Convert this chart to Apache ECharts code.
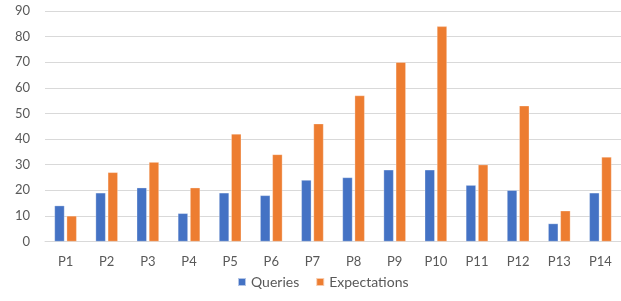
<!DOCTYPE html>
<html>
<head>
<meta charset="utf-8">
<script src="https://cdn.jsdelivr.net/npm/echarts@6/dist/echarts.min.js"></script>
<style>
  html, body { margin: 0; padding: 0; background: #fff; }
  #chart { width: 621px; height: 301px; }
</style>
</head>
<body>
<div id="chart"></div>
<script>
// data
const categories = ['P1', 'P2', 'P3', 'P4', 'P5', 'P6', 'P7', 'P8', 'P9', 'P10', 'P11', 'P12', 'P13', 'P14'];
const queries = [14, 19, 21, 11, 19, 18, 24, 25, 28, 28, 22, 20, 7, 19];
const expectations = [10, 27, 31, 21, 42, 34, 46, 57, 70, 84, 30, 53, 12, 33];
const yTicks = { min: 0, max: 90, interval: 10 };

const font = 'Lato, "Open Sans", sans-serif';
const textColor = '#595959';

const chart = echarts.init(document.getElementById('chart'));

chart.setOption({
  backgroundColor: '#fff',
  animation: false,
  textStyle: { fontFamily: font },
  grid: { left: 45, right: 0, top: 11, bottom: 59.5 },
  legend: {
    data: ['Queries', 'Expectations'],
    bottom: 7,
    left: 232,
    icon: 'rect',
    itemWidth: 8,
    itemHeight: 8,
    itemGap: 16,
    itemTextGap: 4,
    textStyle: { color: textColor, fontSize: 14, fontFamily: font }
  },
  xAxis: {
    type: 'category',
    data: categories,
    axisLine: { lineStyle: { color: '#d9d9d9' } },
    axisTick: { show: false },
    axisLabel: { color: textColor, fontSize: 13, margin: 14, fontFamily: font }
  },
  yAxis: {
    type: 'value',
    min: yTicks.min,
    max: yTicks.max,
    interval: yTicks.interval,
    axisLine: { show: false },
    axisTick: { show: false },
    axisLabel: { color: textColor, fontSize: 13, margin: 15, fontFamily: font },
    splitLine: { lineStyle: { color: '#d9d9d9', width: 1 } }
  },
  series: [
    {
      name: 'Queries',
      type: 'bar',
      data: queries,
      barWidth: 10,
      barGap: '22%',
      itemStyle: { color: '#4472c4', borderColor: 'rgba(255,255,255,0.6)', borderWidth: 0.5 }
    },
    {
      name: 'Expectations',
      type: 'bar',
      data: expectations,
      barWidth: 10,
      barGap: '22%',
      itemStyle: { color: '#ed7d31', borderColor: 'rgba(255,255,255,0.6)', borderWidth: 0.5 }
    }
  ]
});

window.addEventListener('resize', () => chart.resize());
</script>
</body>
</html>
